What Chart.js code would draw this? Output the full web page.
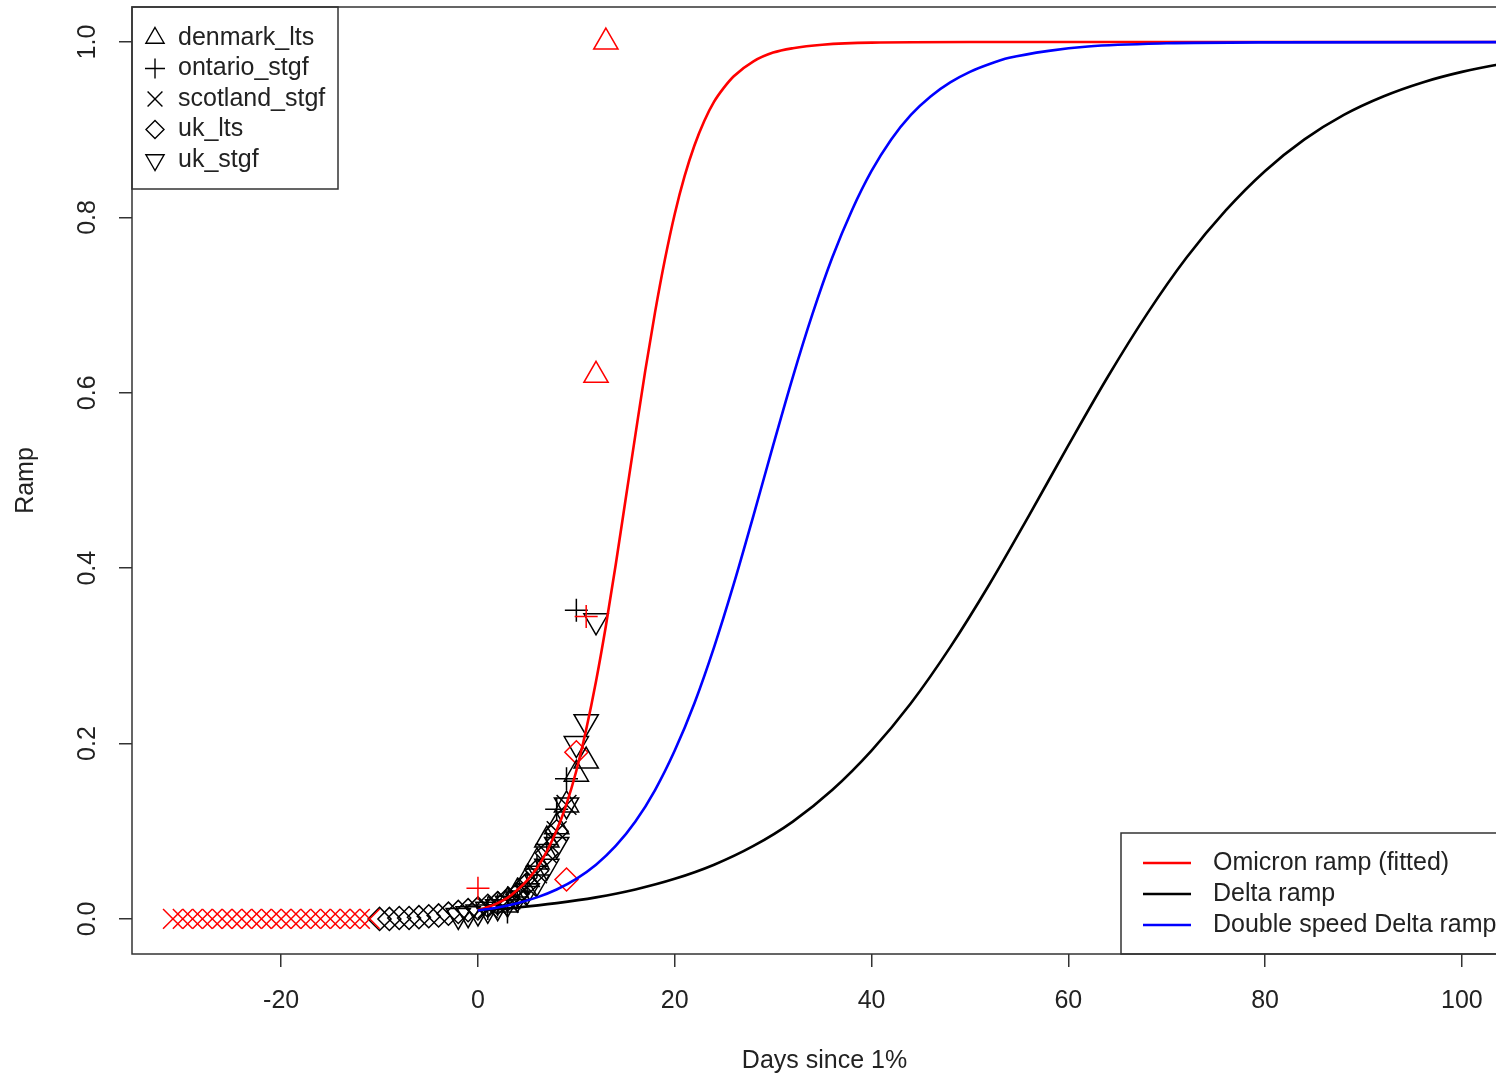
<!DOCTYPE html>
<html>
<head>
<meta charset="utf-8">
<script src="https://cdn.jsdelivr.net/npm/chart.js@4.4.1/dist/chart.umd.min.js"></script>
<style>
  html, body { margin: 0; padding: 0; background: #fff; overflow: hidden; }
  #wrap { width: 1520px; height: 1077px; }
</style>
</head>
<body>
<div id="wrap"><canvas id="ramp" width="1520" height="1077"></canvas></div>
<script>
// axis ticks
const xTicks = [-20, 0, 20, 40, 60, 80, 100];
const yTicks = [0, 0.2, 0.4, 0.6, 0.8, 1.0];

// fitted / reference ramps
const omicronDays = [0,1,2,3,4,5,6,7,8,9,10,11,12,13,14,15,16,17,18,19,20,21,22,23,24,25,26,28,30,32,35,40,50,60,80,106];
const omicronRamp = [0.010,0.0135,0.018,0.024,0.033,0.044,0.058,0.077,0.101,0.131,0.169,0.216,0.271,0.334,0.404,0.478,0.552,0.625,0.692,0.752,0.804,0.847,0.882,0.910,0.932,0.948,0.961,0.978,0.988,0.993,0.997,0.9994,1,1,1,1];

const deltaDays = [0,4,8,12,16,20,24,28,32,36,40,44,48,52,56,60,64,68,72,76,80,84,88,92,96,100,104,108];
const deltaRamp = [0.0096,0.0131,0.0180,0.0246,0.0336,0.0457,0.0618,0.0832,0.111,0.147,0.192,0.246,0.310,0.382,0.460,0.540,0.618,0.690,0.754,0.808,0.853,0.889,0.917,0.938,0.954,0.966,0.975,0.982];

const doubleDays = [0,2,4,6,8,10,12,14,16,18,20,22,24,26,28,30,32,34,36,38,40,42,44,46,48,50,52,54,58,62,70,80,106];
const doubleRamp = [0.0096,0.0131,0.0180,0.0246,0.0336,0.0457,0.0618,0.0832,0.111,0.147,0.192,0.246,0.310,0.382,0.460,0.540,0.618,0.690,0.754,0.808,0.853,0.889,0.917,0.938,0.954,0.966,0.975,0.982,0.990,0.995,0.9986,0.9997,1];

// observed series (flag 1 = point left out of the fit, shown in red)
const denmarkDays = [3,4,5,6,7,8,9,10,11,12,13];
const denmarkRamp = [0.02,0.03,0.045,0.065,0.09,0.105,0.13,0.165,0.18,0.62,1.0];
const denmarkOut  = [0,0,0,0,0,0,0,0,0,1,1];

const ontarioDays = [0,1,2,3,4,5,6,7,8,9,10,11];
const ontarioRamp = [0.035,0.012,0.016,0.008,0.025,0.04,0.06,0.085,0.125,0.16,0.352,0.345];
const ontarioOut  = [1,0,0,0,0,0,0,0,0,0,0,1];

const scotlandDays = [-31,-30,-29,-28,-27,-26,-25,-24,-23,-22,-21,-20,-19,-18,-17,-16,-15,-14,-13,-12,-11,1,2,3,4,5,6,7,8,9];
const scotlandRamp = [0,0,0,0,0,0,0,0,0,0,0,0,0,0,0,0,0,0,0,0,0,0.012,0.015,0.02,0.026,0.036,0.052,0.075,0.1,0.13];
const scotlandOut  = [1,1,1,1,1,1,1,1,1,1,1,1,1,1,1,1,1,1,1,1,1,0,0,0,0,0,0,0,0,0];

const ukLtsDays = [-10,-9,-8,-7,-6,-5,-4,-3,-2,-1,0,1,2,3,4,5,6,7,8,9,10];
const ukLtsRamp = [0,0,0.001,0.001,0.002,0.003,0.004,0.006,0.008,0.01,0.012,0.015,0.018,0.022,0.028,0.04,0.055,0.075,0.1,0.045,0.19];
const ukLtsOut  = [0,0,0,0,0,0,0,0,0,0,0,0,0,0,0,0,0,0,0,1,1];

const ukStgfDays = [-2,-1,0,1,2,3,4,5,6,7,8,9,10,11,12];
const ukStgfRamp = [0.004,0.006,0.008,0.011,0.014,0.018,0.024,0.032,0.042,0.06,0.085,0.13,0.2,0.225,0.34];
const ukStgfOut  = [0,0,0,0,0,0,0,0,0,0,0,0,0,0,0];

const RED = '#ff0000', BLUE = '#0000ff', BLACK = '#000000', INK = '#222222';
const FONT = '"Liberation Sans", Arial, sans-serif';

function pairs(xs, ys) {
    return xs.map((x, i) => ({ x: x, y: ys[i] }));
}

function curve(label, xs, ys, color) {
    return {
        label: label,
        data: pairs(xs, ys),
        showLine: true,
        borderColor: color,
        borderWidth: 2.6,
        pointRadius: 0,
        cubicInterpolationMode: 'monotone',
        fill: false
    };
}

function points(label, xs, ys, out, style, radius, rotation) {
    return {
        label: label,
        data: pairs(xs, ys),
        showLine: false,
        pointStyle: style,
        pointRadius: radius,
        pointRotation: rotation || 0,
        pointBorderWidth: 1.5,
        pointBackgroundColor: 'rgba(0,0,0,0)',
        pointBorderColor: ctx => out[ctx.dataIndex] ? RED : BLACK
    };
}

// symbol legend (top left) and line legend (bottom right), frame, y labels, titles
const decor = {
    id: 'decor',
    afterDraw(chart) {
        const ctx = chart.ctx;
        const a = chart.chartArea;
        ctx.save();
        ctx.fillStyle = INK;
        ctx.font = '25px ' + FONT;
        ctx.textBaseline = 'middle';

        // y tick labels, rotated like base R
        const ys = chart.scales.y;
        yTicks.forEach(v => {
            ctx.save();
            ctx.translate(88, ys.getPixelForValue(v));
            ctx.rotate(-Math.PI / 2);
            ctx.textAlign = 'center';
            ctx.fillText(v.toFixed(1), 0, 0);
            ctx.restore();
        });

        // axis titles
        ctx.textAlign = 'center';
        ctx.fillText('Days since 1%', (a.left + a.right) / 2, 1061);
        ctx.save();
        ctx.translate(26, (a.top + a.bottom) / 2);
        ctx.rotate(-Math.PI / 2);
        ctx.fillText('Ramp', 0, 0);
        ctx.restore();

        // symbol legend
        const symbols = [
            ['denmark_lts', 'triangle', 10.5, 0],
            ['ontario_stgf', 'cross', 10, 0],
            ['scotland_stgf', 'crossRot', 10.5, 0],
            ['uk_lts', 'rectRot', 9, 0],
            ['uk_stgf', 'triangle', 10.5, 180]
        ];
        ctx.fillStyle = '#fff';
        ctx.fillRect(a.left, a.top, 206, 182);
        ctx.strokeStyle = '#333';
        ctx.lineWidth = 1.5;
        ctx.strokeRect(a.left, a.top, 206, 182);
        ctx.textAlign = 'left';
        symbols.forEach((s, i) => {
            const yy = a.top + 31 + i * 30.5;
            ctx.strokeStyle = BLACK;
            ctx.fillStyle = 'rgba(0,0,0,0)';
            ctx.lineWidth = 1.4;
            Chart.helpers.drawPoint(ctx, { pointStyle: s[1], radius: s[2], rotation: s[3], borderWidth: 1.4 }, a.left + 23, yy);
            ctx.fillStyle = INK;
            ctx.fillText(s[0], a.left + 46, yy);
        });

        // line legend
        const lines = [
            ['Omicron ramp (fitted)', RED],
            ['Delta ramp', BLACK],
            ['Double speed Delta ramp', BLUE]
        ];
        const lx = 1121, ly = 833;
        ctx.fillStyle = '#fff';
        ctx.fillRect(lx, ly, a.right - lx, a.bottom - ly);
        ctx.strokeStyle = '#333';
        ctx.lineWidth = 1.5;
        ctx.strokeRect(lx, ly, a.right - lx, a.bottom - ly);
        lines.forEach((l, i) => {
            const yy = ly + 30 + i * 31;
            ctx.strokeStyle = l[1];
            ctx.lineWidth = 2.6;
            ctx.beginPath();
            ctx.moveTo(lx + 22, yy);
            ctx.lineTo(lx + 70, yy);
            ctx.stroke();
            ctx.fillStyle = INK;
            ctx.fillText(l[0], lx + 92, yy);
        });

        // plot frame
        ctx.strokeStyle = '#333';
        ctx.lineWidth = 1.5;
        ctx.strokeRect(a.left, a.top, a.right - a.left, a.bottom - a.top);
        ctx.restore();
    }
};

new Chart(document.getElementById('ramp'), {
    type: 'scatter',
    data: {
        datasets: [
            curve('Double speed Delta ramp', doubleDays, doubleRamp, BLUE),
            curve('Delta ramp', deltaDays, deltaRamp, BLACK),
            curve('Omicron ramp (fitted)', omicronDays, omicronRamp, RED),
            points('denmark_lts', denmarkDays, denmarkRamp, denmarkOut, 'triangle', 14),
            points('ontario_stgf', ontarioDays, ontarioRamp, ontarioOut, 'cross', 11.5),
            points('scotland_stgf', scotlandDays, scotlandRamp, scotlandOut, 'crossRot', 14),
            points('uk_lts', ukLtsDays, ukLtsRamp, ukLtsOut, 'rectRot', 11.5),
            points('uk_stgf', ukStgfDays, ukStgfRamp, ukStgfOut, 'triangle', 14, 180)
        ]
    },
    options: {
        responsive: false,
        animation: false,
        events: [],
        layout: { autoPadding: false, padding: { top: 7, right: 3, left: 0, bottom: 0 } },
        plugins: { legend: { display: false }, tooltip: { enabled: false } },
        scales: {
            x: {
                type: 'linear',
                min: -35.16,
                max: 105.6,
                afterBuildTicks: s => { s.ticks = xTicks.map(v => ({ value: v })); },
                afterFit: s => { s.height = 123; },
                border: { display: false },
                grid: { drawOnChartArea: false, drawTicks: true, tickLength: 13, color: '#333', lineWidth: 1.5 },
                ticks: { padding: 19, color: INK, font: { family: FONT, size: 25 }, maxRotation: 0 }
            },
            y: {
                type: 'linear',
                min: -0.04,
                max: 1.04,
                afterBuildTicks: s => { s.ticks = yTicks.map(v => ({ value: v })); },
                afterFit: s => { s.width = 132; },
                border: { display: false },
                grid: { drawOnChartArea: false, drawTicks: true, tickLength: 13, color: '#333', lineWidth: 1.5 },
                ticks: { display: false }
            }
        }
    },
    plugins: [decor]
});
</script>
</body>
</html>
